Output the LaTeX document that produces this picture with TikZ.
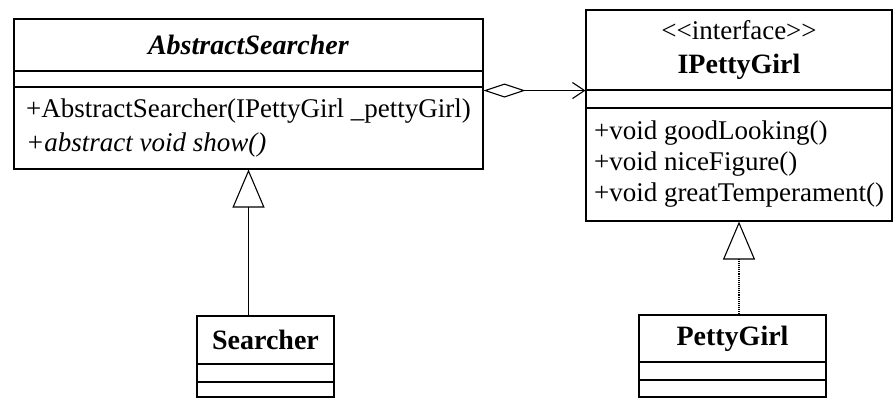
\documentclass[tikz,border=0pt]{standalone}
\usepackage{fontspec}
\setmainfont{Liberation Serif}
\usetikzlibrary{arrows.meta}

\begin{document}
\begin{tikzpicture}[x=1pt,y=-1pt,
    classbox/.style={draw=black, line width=1.1pt, rectangle, inner sep=0pt, font=\fontsize{27}{31}\selectfont},
    namefont/.style={font=\fontsize{28}{34}\selectfont\bfseries}]
        \useasboundingbox (0,0) rectangle (895,399);
        % AbstractSearcher
        \node[classbox, namefont, minimum width=469, minimum height=52] (abshead) at (248.5,45) {\textit{AbstractSearcher}};
        \node[classbox, minimum width=469, minimum height=16] (absattr) at (248.5,79) {};
        \node[classbox, minimum width=469, minimum height=82, align=left, font=\fontsize{27}{34}\selectfont] (absops) at (248.5,128) {+AbstractSearcher(IPettyGirl \_pettyGirl)\\\textit{+abstract void show()}};
        % IPettyGirl
        \node[classbox, minimum width=306, minimum height=80, align=center, font=\fontsize{27}{34}\selectfont] (girlhead) at (739,50) {<\kern0pt<interface>\kern0pt>\\\textbf{\fontsize{28}{34}\selectfont IPettyGirl}};
        \node[classbox, minimum width=306, minimum height=18] (girlattr) at (739,99) {};
        \node[classbox, minimum width=306, minimum height=113, align=left] (girlops) at (739,164.5) {+void goodLooking()\\+void niceFigure()\\+void greatTemperament()};
        % Searcher
        \node[classbox, namefont, minimum width=137, minimum height=48] (srchhead) at (265.5,340) {Searcher};
        \node[classbox, minimum width=137, minimum height=18] (srchattr) at (265.5,373) {};
        \node[classbox, minimum width=137, minimum height=15] (srchops) at (265.5,389.5) {};
        % PettyGirl
        \node[classbox, namefont, minimum width=187, minimum height=47] (pghead) at (732.5,338.5) {PettyGirl};
        \node[classbox, minimum width=187, minimum height=18] (pgattr) at (732.5,371) {};
        \node[classbox, minimum width=187, minimum height=17] (pgops) at (732.5,388.5) {};

        \tikzset{aggr/.style={line width=1.1pt, {Diamond[open,length=42pt,width=14pt]}-{Straight Barb[length=12pt,width=16pt]}}}
        \tikzset{inherit/.style={line width=1.1pt, -{Triangle[open,length=38pt,width=32pt]}}}

        \draw[aggr] (absops.north east |- girlhead.south) -- (girlhead.south west);
        \draw[inherit] (srchhead.north -| absops.south) -- (absops.south);
        \draw[inherit, densely dotted] (pghead.north -| girlops.south) -- (girlops.south);

    \end{tikzpicture}
\end{document}
